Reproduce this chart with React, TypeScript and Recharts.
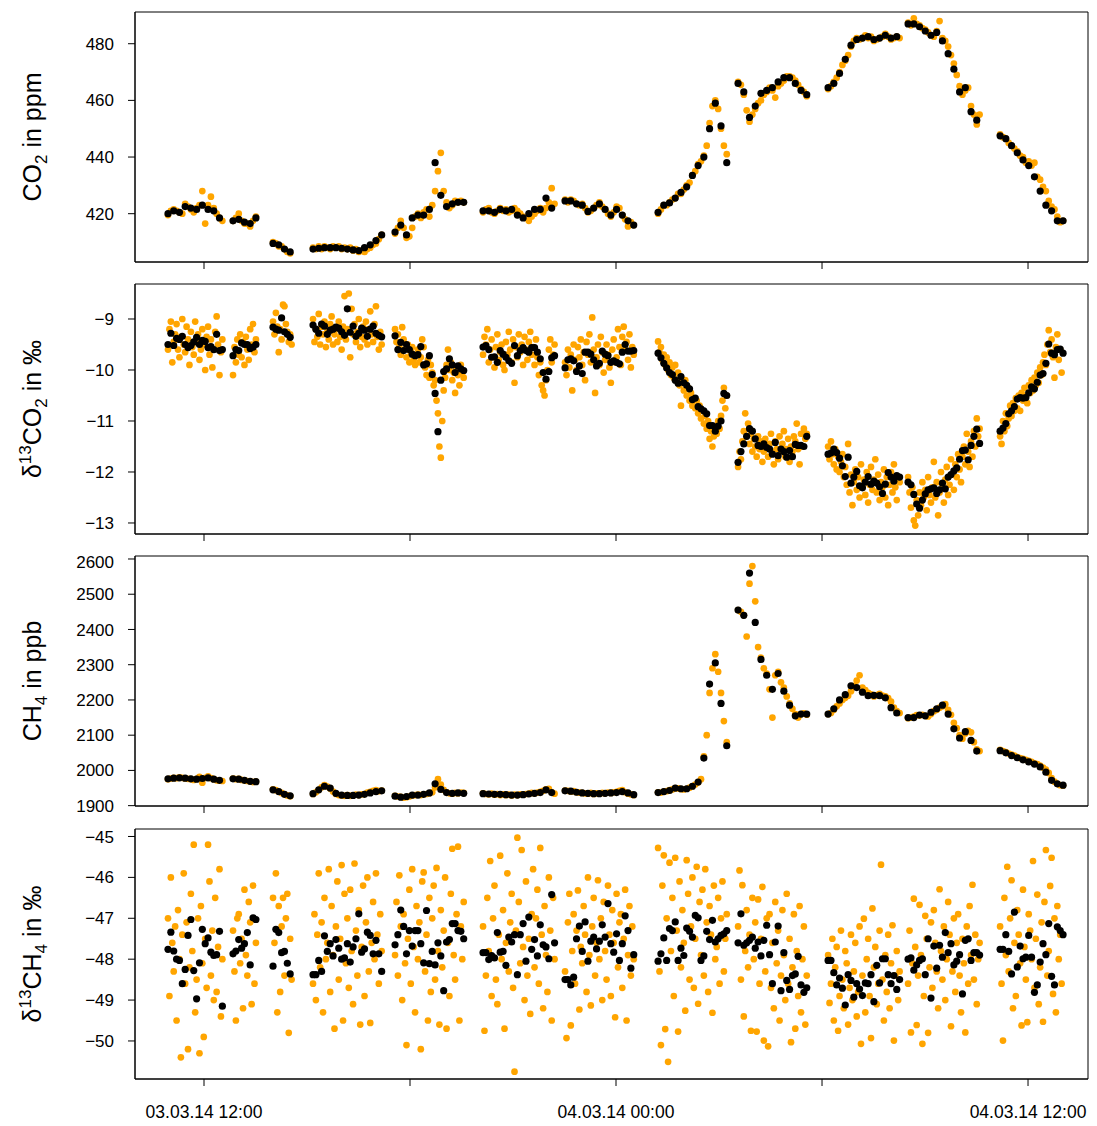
import React from 'react';
import { ScatterChart, Scatter, XAxis, YAxis, ReferenceArea } from 'recharts';

// measurement segment start times (hours since 03.03.14 00:00)
const segStart = [10.951, 12.845, 14.01, 15.175, 17.564, 20.127, 22.516, 25.225, 27.555, 30.177, 32.507, 35.187];

const xDomain = [9.99, 37.747];
const xTicks = [12, 18, 24, 30, 36];
const xTickLabels = ['03.03.14 12:00', '', '04.03.14 00:00', '', '04.03.14 12:00'];

const co2Ticks = [420, 440, 460, 480];
const d13co2Ticks = [-13, -12, -11, -10, -9];
const ch4Ticks = [1900, 2000, 2100, 2200, 2300, 2400, 2500, 2600];
const d13ch4Ticks = [-50, -49, -48, -47, -46, -45];

// CO2 (ppm): 10-min averages and 5-min raw values, per segment
const co2Avg = [
  [420, 421, 420.5, 422.5, 422, 421.5, 423, 421.5, 421, 418.5],
  [417.5, 418, 417, 416.5, 418.5],
  [409.5, 409, 407.5, 406.5],
  [407.5, 407.8, 408, 408, 408, 407.8, 407.5, 407.2, 407, 408, 409, 410.5, 412.5],
  [413.5, 416, 412.5, 418.5, 419.5, 419.5, 421.5, 438, 426.5, 422.5, 423.5, 424, 424],
  [421, 421, 420.5, 421.5, 421, 421.5, 419.5, 418.5, 420, 421.5, 421.5, 425.5, 422],
  [424.5, 424.5, 423.5, 423, 420.8, 422, 423.5, 421.5, 419.5, 421.5, 419.5, 417.5, 416],
  [420.5, 423, 423.8, 425.5, 427.5, 429.5, 433.5, 437, 440, 450, 459, 451, 438],
  [466, 463, 454, 458, 462.5, 463.5, 464.5, 466.5, 468, 468, 466, 463.5, 462],
  [464.5, 466, 469.5, 474.5, 479.5, 481.5, 482, 482.5, 481.5, 482, 483, 482, 482.5],
  [487, 487, 486, 484.5, 483, 484, 481, 476.5, 471, 463, 464.5, 456, 453],
  [447.5, 446.5, 444, 441.5, 439, 437, 433, 428, 423, 421, 417.5, 417.5],
];
const co2Raw = [
  [419.5, 421, 421.5, 421, 420.5, 420, 423.5, 422.5, 421.5, 420.5, 422, 423, 428, 416.5, 423, 426, 422, 420, 418.5, 417.5],
  [417.5, 418.5, 420, 417.5, 416.5, 416.5, 415.5, 417.5, 419],
  [410, 409.5, 408.5, 408.5, 407.5, 406.5, 406],
  [408, 407.5, 408.5, 407.5, 408.5, 408, 407.5, 408.5, 408, 408.5, 407.5, 408, 407.5, 408, 407, 407.5, 406.5, 407, 406.5, 407.5, 408, 409, 409.5, 411, 412.5],
  [413, 415, 417.5, 415, 411.5, 412, 415, 419, 420, 418.5, 420.5, 421.5, 419, 423, 428, 435, 441.5, 428, 424, 422, 423, 424.5, 424, 424.5, 424],
  [420.5, 421.5, 422, 420.5, 420, 421, 422, 421, 421.5, 420.5, 421, 422, 421, 420, 419, 418.5, 417.5, 419, 420, 421, 422, 420.5, 422, 424, 429, 423.5],
  [425, 424, 425, 424.5, 423.5, 423, 423.5, 422, 420.5, 421, 422, 423, 424, 422.5, 421.5, 420, 419, 420.5, 422.5, 422, 419.5, 418, 415.5, 417, 416],
  [420, 421.5, 423, 423, 424, 425, 425.5, 427, 427, 428.5, 430, 431, 433.5, 435, 437.5, 438.5, 440.5, 444, 452, 458, 460, 457, 450, 444, 441],
  [466.5, 465.5, 462, 456.5, 452.5, 455, 457, 459, 460, 462, 463, 464.5, 463.5, 461, 465, 466, 467, 468.5, 468.5, 468, 467, 465.5, 464, 463, 461.5],
  [464, 465, 466.5, 468, 470, 472.5, 474, 476, 479, 481, 482, 481.5, 482, 483, 482, 482.5, 481, 481.5, 482, 482.5, 483.5, 482.5, 481.5, 482, 482.5, 482],
  [487.5, 486.5, 489, 487, 486.5, 485.5, 485, 484, 483, 482.5, 484.5, 488, 482, 481, 479, 476, 473, 469, 465, 462, 463.5, 464.5, 458, 455, 451.5, 455],
  [448, 447, 446.5, 445, 444, 443, 442, 440.5, 440, 438, 438.5, 437, 438, 433, 432, 429.5, 428, 424.5, 422.5, 421.5, 419, 417, 417.5],
];

// d13CO2 (permil): 5-min averages and 2.5-min raw values
const d13co2Avg = [
  [-9.5, -9.28, -9.52, -9.38, -9.4, -9.34, -9.5, -9.56, -9.52, -9.45, -9.36, -9.5, -9.42, -9.44, -9.56, -9.54, -9.6, -9.3, -9.62, -9.6],
  [-9.72, -9.6, -9.62, -9.47, -9.5, -9.5, -9.58, -9.55, -9.5],
  [-9.16, -9.2, -9.22, -8.98, -9.25, -9.3, -9.36],
  [-9.12, -9.2, -9.28, -9.1, -9.14, -9.3, -9.22, -9.2, -9.16, -9.18, -9.25, -9.32, -8.8, -9.26, -9.14, -9.34, -9.28, -9.18, -9.22, -9.34, -9.2, -9.14, -9.28, -9.32, -9.35],
  [-9.33, -9.6, -9.46, -9.62, -9.5, -9.6, -9.69, -9.72, -9.7, -9.54, -9.9, -9.88, -9.72, -10.09, -10.46, -11.21, -10.2, -10.03, -9.98, -9.78, -9.9, -10.05, -9.92, -9.98, -10.01],
  [-9.55, -9.52, -9.6, -9.75, -9.74, -9.85, -9.62, -9.69, -9.75, -9.82, -9.87, -9.52, -9.72, -9.62, -9.56, -9.62, -9.65, -9.56, -9.56, -9.65, -9.78, -10.05, -10.18, -10.03, -9.76, -9.72],
  [-9.96, -9.8, -9.78, -9.82, -10.03, -9.92, -10.07, -9.65, -9.65, -9.69, -9.8, -9.92, -9.87, -9.63, -9.69, -9.72, -9.85, -9.82, -9.85, -9.88, -9.65, -9.5, -9.63, -9.63, -9.62],
  [-9.67, -9.76, -9.87, -9.96, -10.05, -10.09, -10.2, -10.26, -10.13, -10.25, -10.3, -10.37, -10.58, -10.55, -10.72, -10.76, -10.8, -10.86, -11.09, -11.09, -11.2, -11.1, -11.0, -10.46, -10.5],
  [-11.81, -11.6, -11.45, -11.3, -11.15, -11.2, -11.35, -11.48, -11.5, -11.45, -11.52, -11.55, -11.65, -11.42, -11.68, -11.55, -11.6, -11.71, -11.58, -11.7, -11.46, -11.48, -11.48, -11.5, -11.3],
  [-11.65, -11.63, -11.55, -11.62, -11.73, -11.88, -12.09, -11.71, -12.22, -12.1, -11.99, -12.27, -12.31, -12.2, -12.09, -12.24, -12.18, -12.22, -12.29, -12.42, -12.24, -12.01, -12.1, -12.18, -12.07, -12.1],
  [-12.2, -12.25, -12.44, -12.63, -12.71, -12.55, -12.43, -12.35, -12.33, -12.31, -12.42, -12.35, -12.22, -12.33, -12.1, -12.05, -11.98, -11.92, -11.75, -11.58, -11.57, -11.76, -11.48, -11.3, -11.16, -11.44],
  [-11.2, -11.14, -11.05, -10.86, -10.8, -10.72, -10.57, -10.54, -10.55, -10.54, -10.45, -10.33, -10.37, -10.24, -10.1, -10.07, -9.87, -9.49, -9.67, -9.7, -9.6, -9.59, -9.67],
];
const d13co2Raw = [
  [-9.6, -9.2, -9.05, -9.85, -9.45, -9.3, -9.1, -9.6, -9.75, -9.35, -9.0, -9.5, -9.65, -9.15, -9.4, -9.9, -9.25, -9.55, -9.7, -9.05, -9.45, -9.3, -9.8, -9.6, -9.2, -9.5, -10.0, -9.35, -9.15, -9.7, -9.4, -9.95, -9.6, -9.25, -8.95, -9.5, -10.1, -9.65, -9.4],
  [-10.1, -9.55, -9.85, -9.4, -9.7, -9.3, -9.75, -9.45, -9.9, -9.35, -9.6, -9.8, -9.2, -9.5, -9.1, -9.65, -9.4],
  [-9.05, -9.3, -8.88, -9.15, -9.65, -9.2, -9.4, -8.72, -8.75, -9.1, -9.25, -9.45, -9.3, -9.5],
  [-9.0, -9.45, -9.2, -9.35, -8.9, -9.5, -9.15, -9.3, -9.05, -9.55, -9.25, -9.4, -9.1, -8.95, -9.5, -9.3, -9.2, -9.45, -9.05, -9.35, -9.6, -9.15, -8.55, -9.4, -9.2, -8.5, -9.75, -8.8, -9.3, -9.1, -9.45, -9.25, -9.0, -9.55, -9.35, -9.15, -9.4, -9.05, -9.5, -9.2, -8.85, -9.3, -9.45, -9.1, -8.75, -9.35, -9.6, -9.25, -9.5],
  [-9.2, -9.45, -9.3, -9.55, -9.7, -9.16, -9.4, -9.6, -9.75, -9.5, -9.85, -9.65, -9.55, -9.8, -9.9, -9.7, -9.6, -9.85, -9.75, -9.4, -9.55, -9.95, -10.1, -9.8, -10.15, -9.9, -10.05, -10.3, -10.2, -10.6, -10.85, -11.5, -11.72, -11.0, -10.4, -10.15, -9.9, -9.6, -10.0, -9.85, -10.2, -10.05, -10.45, -9.95, -10.1, -10.3, -9.9, -10.05, -10.15],
  [-9.7, -9.35, -9.5, -9.2, -9.85, -9.6, -9.4, -9.75, -9.95, -9.55, -9.3, -9.8, -9.65, -9.5, -9.9, -10.0, -9.45, -9.7, -9.25, -9.6, -9.85, -9.4, -10.25, -9.55, -9.75, -9.3, -9.65, -9.5, -9.9, -9.35, -9.6, -9.8, -9.45, -9.25, -9.7, -9.55, -9.9, -9.4, -9.75, -10.1, -9.85, -10.3, -10.4, -10.5, -10.2, -10.0, -9.6, -9.4, -9.85, -9.7, -9.5],
  [-9.85, -10.1, -9.6, -9.95, -9.7, -10.4, -9.5, -9.8, -10.0, -9.55, -9.75, -9.4, -9.9, -9.65, -10.2, -9.45, -9.7, -9.3, -9.85, -8.97, -9.6, -10.45, -9.75, -9.5, -9.9, -9.35, -9.65, -10.05, -9.8, -9.5, -9.7, -9.95, -10.25, -9.6, -9.4, -9.85, -9.75, -9.2, -9.55, -9.9, -9.35, -9.15, -9.6, -9.45, -9.8, -9.3, -9.95, -9.55, -9.7],
  [-9.44, -9.65, -9.55, -9.8, -9.7, -9.9, -9.75, -10.0, -9.85, -10.1, -9.95, -10.15, -9.9, -10.2, -10.05, -10.3, -10.7, -10.25, -10.4, -10.2, -10.5, -10.35, -10.6, -10.45, -10.7, -10.55, -10.75, -10.6, -10.85, -10.7, -10.95, -10.8, -11.05, -10.9, -11.15, -11.0, -11.35, -11.2, -11.5, -11.3, -11.1, -11.25, -11.0, -11.15, -10.9, -10.6, -10.35, -10.75, -10.5],
  [-11.9, -11.6, -11.75, -11.4, -11.2, -10.85, -11.3, -11.05, -11.45, -11.25, -11.6, -11.35, -11.5, -11.7, -11.3, -11.55, -11.4, -11.8, -11.6, -11.35, -11.5, -11.7, -11.45, -11.25, -11.6, -11.85, -11.4, -11.55, -11.75, -11.3, -11.6, -11.45, -11.2, -11.7, -11.55, -11.35, -11.8, -11.5, -11.6, -11.3, -11.4, -11.05, -11.55, -11.85, -11.25, -11.5, -11.15, -11.35, -11.25],
  [-11.5, -11.75, -11.4, -11.65, -11.85, -11.55, -11.95, -11.7, -12.0, -11.8, -11.65, -12.1, -11.9, -12.25, -11.45, -12.4, -12.05, -12.65, -12.2, -11.95, -12.35, -12.1, -12.5, -11.85, -12.3, -12.15, -12.45, -12.0, -12.6, -12.25, -11.9, -12.35, -12.15, -11.75, -12.4, -12.05, -12.55, -12.2, -12.3, -11.95, -12.5, -12.1, -12.65, -12.25, -12.0, -12.4, -11.85, -12.3, -12.55, -12.1, -12.2],
  [-12.1, -12.4, -12.7, -12.3, -12.95, -13.05, -12.55, -12.85, -12.4, -12.65, -12.2, -12.5, -12.35, -12.75, -12.1, -12.45, -12.6, -12.3, -11.8, -12.5, -12.2, -12.85, -12.4, -12.0, -12.3, -12.6, -12.15, -11.9, -12.45, -12.25, -11.75, -12.05, -12.35, -11.85, -12.1, -11.65, -11.95, -12.2, -11.7, -11.5, -11.85, -11.25, -11.6, -11.9, -11.4, -11.7, -11.2, -11.5, -10.95, -11.3, -11.15],
  [-11.3, -11.45, -11.0, -11.2, -10.85, -11.1, -10.95, -10.7, -10.9, -10.65, -10.8, -10.55, -10.75, -10.5, -10.8, -10.45, -10.6, -10.35, -10.5, -10.65, -10.3, -10.45, -10.2, -10.4, -10.15, -10.3, -10.05, -10.25, -9.95, -10.1, -9.85, -9.7, -9.9, -9.5, -9.22, -9.65, -9.4, -9.75, -10.15, -9.55, -9.3, -9.8, -9.6, -10.05],
];

// CH4 (ppb): 10-min averages and 5-min raw values
const ch4Avg = [
  [1976, 1978, 1979, 1978, 1976, 1975, 1977, 1979, 1975, 1972],
  [1976, 1975, 1972, 1969, 1968],
  [1945, 1940, 1932, 1928],
  [1934, 1945, 1955, 1950, 1935, 1930, 1929, 1929, 1930, 1932, 1936, 1940, 1942],
  [1927, 1924, 1926, 1930, 1930, 1932, 1936, 1962, 1946, 1937, 1935, 1936, 1935],
  [1934, 1933, 1932, 1932, 1931, 1930, 1930, 1931, 1933, 1935, 1937, 1945, 1937],
  [1942, 1941, 1938, 1936, 1935, 1934, 1934, 1935, 1936, 1937, 1940, 1936, 1931],
  [1937, 1940, 1943, 1950, 1948, 1948, 1955, 1967, 2035, 2245, 2305, 2190, 2070],
  [2455, 2440, 2560, 2420, 2315, 2270, 2230, 2275, 2225, 2185, 2155, 2160, 2160],
  [2160, 2175, 2200, 2215, 2240, 2235, 2222, 2212, 2213, 2212, 2206, 2178, 2163],
  [2150, 2150, 2157, 2155, 2165, 2175, 2185, 2160, 2118, 2092, 2110, 2085, 2055],
  [2056, 2050, 2042, 2036, 2030, 2024, 2018, 2010, 1995, 1972, 1962, 1958],
];
const ch4Raw = [
  [1975, 1977, 1979, 1978, 1980, 1979, 1977, 1976, 1975, 1973, 1976, 1982, 1965, 1979, 1983, 1978, 1975, 1972, 1971, 1970],
  [1977, 1975, 1976, 1973, 1972, 1970, 1969, 1967, 1968],
  [1946, 1944, 1940, 1936, 1932, 1929, 1927],
  [1933, 1938, 1945, 1952, 1958, 1954, 1949, 1940, 1933, 1930, 1929, 1928, 1930, 1928, 1929, 1931, 1930, 1932, 1933, 1937, 1939, 1942, 1944, 1941, 1943],
  [1928, 1926, 1925, 1923, 1924, 1926, 1929, 1930, 1931, 1930, 1932, 1933, 1935, 1938, 1952, 1975, 1960, 1945, 1938, 1935, 1934, 1936, 1935, 1937, 1936],
  [1935, 1933, 1932, 1934, 1931, 1933, 1930, 1932, 1930, 1931, 1929, 1931, 1930, 1932, 1931, 1933, 1934, 1936, 1935, 1937, 1939, 1942, 1946, 1948, 1938, 1934],
  [1943, 1942, 1940, 1941, 1938, 1937, 1936, 1935, 1934, 1936, 1933, 1935, 1934, 1936, 1935, 1937, 1936, 1938, 1939, 1942, 1944, 1938, 1934, 1932, 1930],
  [1938, 1937, 1940, 1941, 1944, 1946, 1950, 1949, 1947, 1946, 1948, 1951, 1955, 1960, 1966, 1975, 2040, 2100, 2220, 2290, 2330, 2280, 2220, 2140, 2080],
  [2455, 2450, 2440, 2380, 2530, 2580, 2480, 2350, 2320, 2290, 2275, 2230, 2150, 2270, 2280, 2250, 2235, 2210, 2190, 2175, 2160, 2150, 2160, 2162, 2158],
  [2160, 2163, 2172, 2182, 2190, 2200, 2206, 2212, 2225, 2240, 2255, 2270, 2235, 2228, 2220, 2216, 2210, 2214, 2217, 2212, 2210, 2205, 2195, 2178, 2168, 2163],
  [2148, 2150, 2153, 2157, 2156, 2158, 2155, 2153, 2160, 2168, 2172, 2178, 2182, 2188, 2172, 2158, 2135, 2120, 2100, 2090, 2105, 2112, 2108, 2080, 2060, 2055],
  [2058, 2055, 2052, 2048, 2045, 2042, 2038, 2035, 2033, 2030, 2027, 2024, 2020, 2018, 2014, 2008, 2002, 1993, 1978, 1968, 1962, 1958, 1957],
];

// d13CH4 (permil): 5-min averages and 2.5-min raw values
const d13ch4Avg = [
  [-47.76, -47.34, -47.8, -48.0, -48.03, -48.6, -48.25, -47.42, -47.03, -48.28, -48.97, -48.09, -47.27, -47.62, -47.48, -47.83, -47.91, -47.89, -47.32, -49.15],
  [-47.87, -47.8, -47.52, -47.73, -47.62, -47.35, -48.14, -46.99, -47.03],
  [-48.17, -47.27, -47.35, -47.84, -47.81, -48.1, -48.36],
  [-48.38, -48.38, -48.03, -48.3, -47.43, -47.81, -47.62, -47.92, -47.52, -47.73, -48.0, -47.97, -47.62, -48.07, -47.7, -47.5, -46.89, -47.83, -47.75, -47.34, -47.42, -47.87, -47.54, -47.87, -48.3],
  [-47.65, -47.4, -46.8, -47.2, -47.87, -47.3, -47.68, -47.3, -47.3, -47.62, -48.09, -46.81, -48.11, -47.81, -48.14, -47.6, -47.92, -48.77, -47.58, -47.52, -47.13, -47.13, -47.3, -47.32, -47.5],
  [-47.84, -47.84, -48.01, -47.91, -47.97, -47.35, -47.83, -47.81, -48.15, -47.46, -47.58, -47.4, -48.38, -47.4, -47.13, -48.05, -46.97, -47.76, -47.52, -47.92, -47.16, -47.65, -47.7, -47.99, -46.42, -47.6],
  [-48.5, -48.5, -48.63, -48.44, -47.5, -47.19, -47.81, -47.09, -48.05, -47.56, -47.46, -47.75, -47.56, -47.16, -47.46, -46.64, -47.62, -47.83, -47.38, -48.03, -47.62, -46.94, -47.3, -48.22, -47.89],
  [-48.05, -47.87, -47.48, -48.03, -47.25, -47.3, -47.09, -48.03, -47.73, -47.91, -47.24, -47.32, -47.46, -46.93, -46.99, -48.03, -47.92, -47.32, -47.52, -47.05, -47.58, -47.5, -47.42, -47.38, -47.3],
  [-47.6, -46.89, -47.66, -47.6, -47.54, -47.46, -47.73, -47.58, -47.92, -47.54, -47.17, -47.89, -48.6, -47.58, -47.19, -48.77, -47.84, -48.52, -48.74, -48.4, -48.36, -47.93, -48.63, -48.81, -48.7],
  [-48.03, -48.03, -48.33, -48.63, -48.46, -48.71, -49.12, -48.38, -48.52, -48.93, -48.6, -48.73, -48.89, -48.58, -48.6, -48.38, -49.04, -48.15, -48.58, -47.99, -47.99, -48.38, -48.6, -48.4, -48.74, -48.5],
  [-48.0, -47.97, -48.27, -48.14, -48.03, -47.99, -48.38, -47.5, -48.95, -47.68, -48.22, -47.66, -47.95, -47.35, -47.84, -47.62, -48.14, -48.05, -47.89, -48.85, -47.54, -47.5, -48.03, -47.84, -47.84, -47.9],
  [-47.76, -47.76, -47.4, -47.81, -48.36, -46.85, -48.19, -47.68, -47.99, -47.95, -47.42, -47.95, -48.81, -48.63, -48.07, -47.62, -47.89, -47.13, -48.42, -48.63, -47.21, -47.3, -47.4],
];
const d13ch4Raw = [
  [-47.0, -48.9, -46.0, -47.6, -48.3, -47.2, -49.5, -46.8, -48.0, -50.4, -47.4, -45.9, -48.6, -47.1, -50.2, -48.2, -46.4, -47.8, -45.2, -49.3, -48.5, -47.0, -50.3, -46.7, -48.1, -49.9, -47.5, -48.7, -45.2, -46.1, -48.4, -47.3, -49.0, -46.5, -48.8, -47.7, -45.8, -49.4, -48.0],
  [-47.3, -48.3, -49.5, -47.0, -46.9, -48.1, -47.5, -49.2, -46.3, -47.9, -48.4, -46.6, -47.1, -49.1, -46.2, -48.6, -47.6],
  [-46.5, -47.6, -45.9, -49.3, -46.7, -48.8, -47.2, -46.5, -48.4, -47.0, -46.4, -49.8, -47.5, -48.5],
  [-48.6, -46.9, -49.0, -47.4, -45.9, -48.2, -47.1, -49.3, -46.5, -48.0, -47.6, -45.8, -48.8, -46.7, -47.9, -49.7, -47.2, -46.1, -48.5, -47.5, -45.7, -49.5, -46.4, -48.1, -47.0, -48.7, -46.3, -47.8, -49.1, -45.66, -47.3, -48.4, -46.8, -49.6, -47.7, -46.2, -48.9, -47.1, -46.0, -48.3, -49.56, -47.6, -46.6, -48.0, -45.9, -47.4, -48.6, -46.9, -47.8],
  [-47.9, -46.6, -48.4, -45.95, -47.2, -49.0, -46.9, -48.1, -50.1, -47.5, -46.3, -48.6, -45.8, -47.7, -49.3, -46.7, -48.0, -47.1, -50.2, -46.1, -45.88, -48.3, -47.4, -49.5, -46.5, -48.8, -47.0, -46.2, -48.5, -45.77, -47.8, -49.6, -46.8, -48.2, -47.3, -46.0, -49.7, -47.6, -48.9, -46.4, -45.3, -47.9, -48.5, -46.9, -45.25, -49.5, -47.2, -48.0, -46.6],
  [-47.2, -49.75, -48.4, -46.5, -47.8, -45.6, -48.9, -47.0, -46.2, -48.5, -49.1, -47.4, -45.47, -48.0, -46.8, -49.7, -47.6, -45.9, -48.3, -47.1, -46.4, -48.7, -50.75, -47.3, -45.03, -46.6, -48.1, -45.33, -47.7, -49.0, -46.1, -48.4, -47.5, -49.34, -46.9, -45.8, -48.2, -47.0, -46.3, -48.6, -45.28, -47.4, -49.2, -46.7, -47.9, -48.8, -46.0, -47.3, -49.5, -46.5, -48.0],
  [-48.3, -49.93, -47.1, -46.4, -49.62, -47.8, -46.9, -48.6, -47.3, -46.32, -49.23, -47.7, -48.1, -46.7, -47.4, -48.8, -46.0, -47.9, -49.13, -47.2, -46.5, -48.4, -47.6, -46.07, -48.0, -47.0, -49.0, -46.6, -47.8, -48.5, -46.2, -47.4, -48.9, -46.8, -47.6, -49.42, -46.4, -48.2, -47.1, -46.9, -48.7, -47.5, -46.3, -49.5, -47.9, -46.7, -48.4, -47.2, -48.0],
  [-45.28, -48.3, -50.1, -46.2, -45.46, -49.71, -47.0, -50.51, -45.64, -47.8, -46.5, -48.9, -45.52, -47.3, -49.77, -46.1, -48.2, -46.8, -47.6, -49.26, -45.58, -46.4, -48.5, -47.2, -46.0, -48.7, -47.5, -45.74, -49.09, -46.6, -47.9, -46.3, -48.4, -45.8, -47.1, -48.8, -46.7, -47.4, -49.31, -46.2, -48.0, -47.7, -46.5, -48.6, -47.0, -46.1, -48.3, -47.5, -46.9],
  [-47.2, -45.83, -48.5, -46.19, -49.4, -47.8, -46.8, -48.2, -47.4, -49.75, -46.5, -48.0, -47.1, -49.77, -46.54, -48.6, -47.5, -46.23, -49.99, -48.3, -47.0, -50.13, -46.9, -48.7, -47.6, -49.2, -46.6, -48.1, -47.3, -49.5, -48.4, -46.8, -47.9, -49.0, -46.4, -48.6, -47.5, -50.03, -48.2, -46.9, -49.7, -47.8, -48.9, -46.7, -49.3, -48.0, -47.2, -49.6, -48.4],
  [-47.9, -49.07, -48.6, -47.5, -49.5, -48.2, -47.7, -49.75, -48.9, -47.3, -48.5, -49.2, -47.8, -48.1, -49.6, -48.7, -47.4, -49.0, -48.3, -47.6, -49.4, -48.8, -47.2, -50.07, -48.4, -47.01, -49.3, -48.0, -47.5, -48.9, -49.93, -46.76, -48.2, -47.7, -49.1, -48.6, -47.3, -45.69, -48.5, -49.5, -47.9, -48.8, -47.4, -49.2, -48.1, -47.17, -49.99, -48.4, -47.8, -49.0, -48.3],
  [-48.6, -47.3, -49.79, -48.1, -46.52, -47.7, -49.61, -48.4, -46.67, -47.9, -50.07, -48.9, -46.94, -47.5, -49.8, -48.2, -47.1, -48.7, -46.8, -47.6, -48.3, -49.2, -46.29, -47.8, -48.5, -47.2, -49.0, -48.0, -46.6, -47.4, -49.64, -48.3, -47.0, -48.8, -47.6, -46.9, -48.4, -49.3, -47.5, -48.1, -49.79, -47.2, -48.6, -46.7, -47.9, -46.18, -48.5, -47.4, -49.1, -48.0, -47.6],
  [-47.2, -48.6, -49.99, -46.5, -47.9, -45.74, -48.3, -47.0, -46.07, -49.2, -47.6, -48.9, -46.8, -47.4, -48.1, -49.62, -46.3, -47.7, -48.5, -49.54, -46.9, -47.3, -48.0, -45.6, -48.7, -47.5, -46.42, -49.1, -48.2, -47.1, -49.53, -46.6, -45.33, -48.4, -47.8, -46.21, -45.52, -48.85, -47.0, -49.3, -46.7, -48.0, -47.4, -48.6],
];

const STEP10 = 1 / 6;
const STEP5 = 1 / 12;
const STEP2_5 = 1 / 24;

function build(segs: number[][], step: number) {
  const out: { t: number; v: number }[] = [];
  segs.forEach((vals, s) => vals.forEach((v, i) => out.push({ t: segStart[s] + i * step, v })));
  return out;
}

const ORANGE = '#FFA500';
const FONT = '"Liberation Sans", Arial, Helvetica, sans-serif';

const orangeDot = (p: any) => (p.cx == null ? null : <circle cx={p.cx} cy={p.cy} r={3.35} fill={ORANGE} />);
const blackDot = (p: any) => (p.cx == null ? null : <circle cx={p.cx} cy={p.cy} r={3.6} fill="#000" />);

const fmtY = (v: number) => String(v).replace('-', '\u2212');

const PLOT_H = 250;
const PAGE_OFF = 8;

function Panel(props: any) {
  const { top, raw, avg, rawStep, avgStep, domain, ticks, showX } = props;
  const xH = showX ? 45 : 12;
  const rawPts = build(raw, rawStep);
  const avgPts = build(avg, avgStep);
  return (
    <div style={{ position: 'absolute', left: 0, top: top - PAGE_OFF - 4 }}>
      <ScatterChart width={1085} height={4 + PLOT_H + xH} margin={{ top: 4, right: 5, bottom: 0, left: 47 }}>
        <XAxis
          type="number"
          dataKey="t"
          domain={xDomain}
          ticks={xTicks}
          allowDataOverflow
          height={xH}
          tickSize={7}
          tickMargin={20}
          axisLine={{ stroke: '#000' }}
          tickLine={{ stroke: '#000' }}
          tick={{ fontSize: 17.5, fill: '#000', fontFamily: FONT }}
          tickFormatter={(v: number) => (showX ? xTickLabels[xTicks.indexOf(v)] || '' : '')}
        />
        <YAxis
          type="number"
          dataKey="v"
          domain={domain}
          ticks={ticks}
          allowDataOverflow
          width={80}
          tickSize={7}
          tickMargin={14}
          axisLine={{ stroke: '#000' }}
          tickLine={{ stroke: '#000' }}
          tick={{ fontSize: 17, fill: '#000', fontFamily: FONT }}
          tickFormatter={fmtY}
        />
        <ReferenceArea x1={xDomain[0]} x2={xDomain[1]} y1={domain[0]} y2={domain[1]} fill="none" stroke="#000" strokeWidth={1} fillOpacity={0} />
        <Scatter data={rawPts} fill={ORANGE} shape={orangeDot} isAnimationActive={false} />
        <Scatter data={avgPts} fill="#000" shape={blackDot} isAnimationActive={false} />
      </ScatterChart>
    </div>
  );
}

const panelTops = [12, 284, 556, 829];

function Titles() {
  const x = 41 - PAGE_OFF;
  const cy = (i: number) => panelTops[i] + PLOT_H / 2 - PAGE_OFF;
  const fs = 25;
  const small = 17;
  const rot = (i: number) => `rotate(-90, ${x}, ${cy(i)})`;
  return (
    <svg width={1089} height={1118} style={{ position: 'absolute', left: 0, top: 0, pointerEvents: 'none' }}>
      <g fontFamily={FONT} fontSize={fs} fill="#000">
        <text x={x} y={cy(0)} textAnchor="middle" transform={rot(0)}>
          CO<tspan fontSize={small} dy={6}>2</tspan>
          <tspan dy={-6}> in ppm</tspan>
        </text>
        <text x={x} y={cy(1)} textAnchor="middle" transform={rot(1)}>
          δ<tspan fontSize={small} dy={-10}>13</tspan>
          <tspan dy={10}>CO</tspan>
          <tspan fontSize={small} dy={6}>2</tspan>
          <tspan dy={-6}> in ‰</tspan>
        </text>
        <text x={x} y={cy(2)} textAnchor="middle" transform={rot(2)}>
          CH<tspan fontSize={small} dy={6}>4</tspan>
          <tspan dy={-6}> in ppb</tspan>
        </text>
        <text x={x} y={cy(3)} textAnchor="middle" transform={rot(3)}>
          δ<tspan fontSize={small} dy={-10}>13</tspan>
          <tspan dy={10}>CH</tspan>
          <tspan fontSize={small} dy={6}>4</tspan>
          <tspan dy={-6}> in ‰</tspan>
        </text>
      </g>
    </svg>
  );
}

export default function App() {
  return (
    <div style={{ position: 'relative', width: 1089, height: 1118, fontFamily: FONT, background: '#fff' }}>
      <Panel top={panelTops[0]} raw={co2Raw} avg={co2Avg} rawStep={STEP5} avgStep={STEP10} domain={[402.95, 491.2]} ticks={co2Ticks} showX={false} />
      <Panel top={panelTops[1]} raw={d13co2Raw} avg={d13co2Avg} rawStep={STEP2_5} avgStep={STEP5} domain={[-13.216, -8.314]} ticks={d13co2Ticks} showX={false} />
      <Panel top={panelTops[2]} raw={ch4Raw} avg={ch4Avg} rawStep={STEP5} avgStep={STEP10} domain={[1899, 2608.5]} ticks={ch4Ticks} showX={false} />
      <Panel top={panelTops[3]} raw={d13ch4Raw} avg={d13ch4Avg} rawStep={STEP2_5} avgStep={STEP5} domain={[-50.93, -44.817]} ticks={d13ch4Ticks} showX={true} />
      <Titles />
    </div>
  );
}
